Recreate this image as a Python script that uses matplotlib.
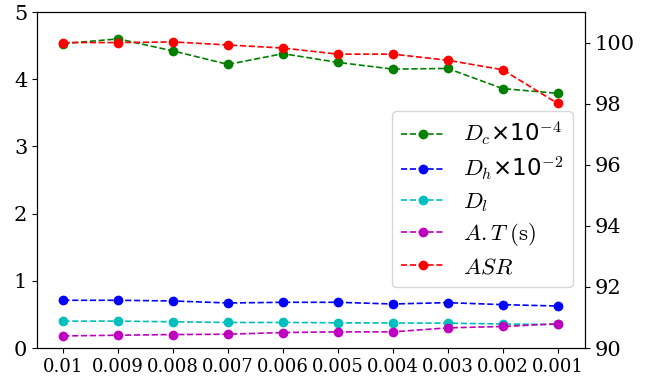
import matplotlib
matplotlib.use("Agg")
import matplotlib.pyplot as plt
import numpy as np

plt.rcParams['font.family'] = 'DejaVu Serif'
plt.rcParams['mathtext.fontset'] = 'cm'

x_labels = ['0.01', '0.009', '0.008', '0.007', '0.006', '0.005', '0.004', '0.003', '0.002', '0.001']
D_c = [4.53, 4.60, 4.42, 4.22, 4.38, 4.25, 4.15, 4.16, 3.86, 3.79]
D_h = [0.71, 0.71, 0.70, 0.67, 0.68, 0.68, 0.655, 0.675, 0.645, 0.625]
D_l = [0.40, 0.40, 0.39, 0.38, 0.38, 0.375, 0.372, 0.37, 0.357, 0.35]
A_T = [0.18, 0.19, 0.20, 0.205, 0.23, 0.24, 0.24, 0.30, 0.32, 0.36]
ASR = [100.0, 100.0, 100.02, 99.92, 99.82, 99.62, 99.62, 99.42, 99.11, 98.01]

fig = plt.figure(figsize=(6.51, 3.79), dpi=100)
ax = fig.add_axes([37/651, 31/379, 548/651, 336/379])
ax2 = ax.twinx()

xs = np.arange(len(x_labels))
kw = dict(linestyle='--', marker='o', markersize=6, linewidth=1.2)
h1, = ax.plot(xs, D_c, color='green', label=r'$D_c$×10$^{-4}$', **kw)
h2, = ax.plot(xs, D_h, color='blue', label=r'$D_h$×10$^{-2}$', **kw)
h3, = ax.plot(xs, D_l, color='c', label=r'$D_l$', **kw)
h4, = ax.plot(xs, A_T, color='m', label=r'$A.T\;\mathrm{(s)}$', **kw)
h5, = ax2.plot(xs, ASR, color='red', label=r'$ASR$', **kw)

ax.set_xlim(-0.48, 9.5)
ax.set_ylim(0, 5)
ax2.set_ylim(90, 101)
ax.set_xticks(xs)
ax.set_xticklabels(x_labels)
ax.set_yticks([0, 1, 2, 3, 4, 5])
ax2.set_yticks([90, 92, 94, 96, 98, 100])
ax.tick_params(axis='x', labelsize=13)
ax.tick_params(axis='y', labelsize=15)
ax2.tick_params(labelsize=15)

ax2.legend(handles=[h1, h2, h3, h4, h5], loc='upper right',
           bbox_to_anchor=(0.978, 0.705), borderaxespad=0,
           prop={'family': 'DejaVu Sans', 'size': 16.5},
           numpoints=1, labelspacing=0.3, handlelength=1.9)

fig.savefig('out.png', dpi=100)
